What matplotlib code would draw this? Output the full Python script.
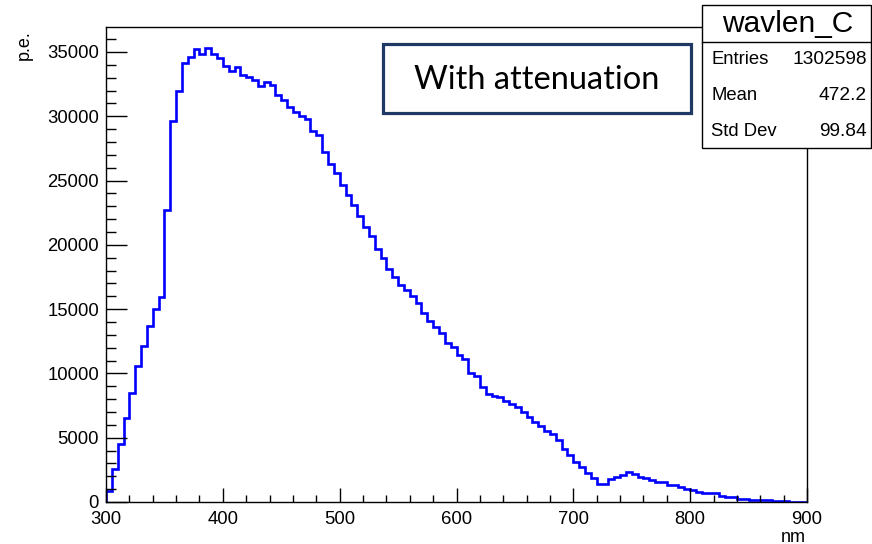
import matplotlib
matplotlib.use('Agg')
import matplotlib.pyplot as plt
import numpy as np
from matplotlib.patches import Rectangle
from matplotlib.lines import Line2D
from matplotlib.ticker import MultipleLocator

plt.rcParams['font.family'] = ['Liberation Sans', 'DejaVu Sans']

# ---- data ----
x_min, x_max, n_bins = 300, 900, 120
counts = [
    850, 2560, 4500, 6530, 8480, 10580, 12140, 13700, 15000, 15950,
    22700, 29630, 31970, 34150, 34620, 35240, 34850, 35310, 34850, 34540,
    33900, 33530, 33800, 33190, 33080, 32820, 32350, 32650, 32450, 31650,
    31250, 30750, 30350, 30000, 29750, 28880, 28570, 27250, 26300, 25560,
    24650, 23850, 23100, 22270, 21390, 20710, 19680, 18950, 18120, 17520,
    16880, 16470, 16010, 15440, 14730, 14100, 13610, 13120, 12340, 12030,
    11430, 11100, 10060, 9800, 8920, 8400, 8270, 8190, 7880, 7650,
    7350, 7000, 6600, 6250, 5900, 5550, 5250, 4800, 4100, 3660,
    3140, 2750, 2230, 1840, 1370, 1370, 1760, 1940, 2090, 2360,
    2180, 1970, 1840, 1710, 1580, 1580, 1320, 1320, 1140, 1040,
    930, 800, 720, 680, 680, 450, 420, 380, 230, 230,
    130, 130, 130, 130, 60, 50, 40, 30, 20, 10,
]
hist_name = "wavlen_C"
stats_labels = ["Entries", "Mean", "Std Dev"]
stats_values = ["1302598", "472.2", "99.84"]
annotation = "With attenuation"
x_label = "nm"
y_label = "p.e."

W, H = 872, 544
fig = plt.figure(figsize=(W / 100, H / 100), dpi=100)

def fx(px):
    return px / W

def fy(py):
    return 1 - py / H

ax = fig.add_axes([fx(106), fy(502), fx(807) - fx(106), fy(27) - fy(502)])
edges = np.linspace(x_min, x_max, n_bins + 1)
ax.stairs(counts, edges, color='#0000ff', lw=1.9, baseline=0)

ax.set_xlim(x_min, x_max)
ax.set_ylim(0, 36944)
ax.xaxis.set_major_locator(MultipleLocator(100))
ax.xaxis.set_minor_locator(MultipleLocator(20))
ax.yaxis.set_major_locator(MultipleLocator(5000))
ax.yaxis.set_minor_locator(MultipleLocator(1000))
ax.tick_params(axis='both', which='both', direction='in', top=False, right=False,
               colors='black', labelsize=13.3, width=1)
ax.tick_params(axis='y', which='major', length=15, pad=5)
ax.tick_params(axis='y', which='minor', length=7.5)
ax.tick_params(axis='x', which='major', length=10, pad=6.5)
ax.tick_params(axis='x', which='minor', length=5)
for s in ax.spines.values():
    s.set_linewidth(1.0)
    s.set_color('black')

fig.text(fx(806), fy(537), x_label, ha='right', va='center', fontsize=13)
fig.text(fx(24), fy(45), y_label, ha='center', va='center', fontsize=13, rotation=90)

# stats box
fig.add_artist(Rectangle((fx(702), fy(148)), fx(871) - fx(702), fy(5) - fy(148),
                         transform=fig.transFigure, facecolor='white', edgecolor='black',
                         lw=1, zorder=10))
fig.add_artist(Line2D([fx(702), fx(871)], [fy(42), fy(42)], transform=fig.transFigure,
                      color='black', lw=1, zorder=11))
fig.text(fx(788), fy(24), hist_name, ha='center', va='center', fontsize=21.5, zorder=12)
for i, (lab, val) in enumerate(zip(stats_labels, stats_values)):
    yy = fy(60 + i * 35.8)
    fig.text(fx(711), yy, lab, ha='left', va='center', fontsize=13.3, zorder=12)
    fig.text(fx(867), yy, val, ha='right', va='center', fontsize=13.8, zorder=12)

# annotation box
fig.add_artist(Rectangle((fx(383), fy(113)), fx(691) - fx(383), fy(44) - fy(113),
                         transform=fig.transFigure, facecolor='white', edgecolor='#1F3864',
                         lw=2.3, zorder=10))
fig.text(fx(537), fy(80), annotation, ha='center', va='center', fontsize=23.5,
         family=['Lato', 'DejaVu Sans'], zorder=12)

fig.savefig('out.png', dpi=100)
